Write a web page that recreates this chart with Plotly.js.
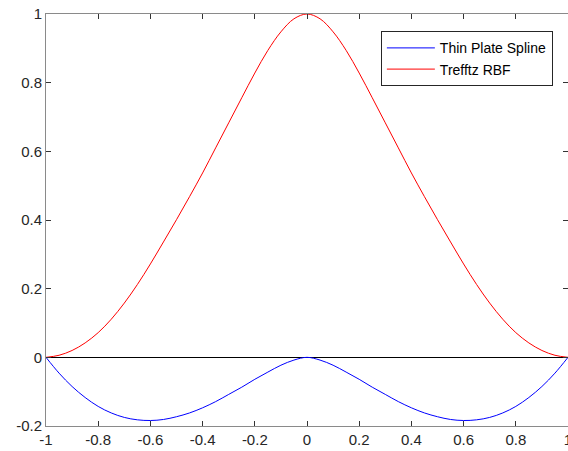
<!DOCTYPE html>
<html>
<head>
<meta charset="utf-8">
<script src="https://cdn.plot.ly/plotly-3.0.1.min.js"></script>
<style>html,body{margin:0;padding:0;background:#fff;}#chart{width:568px;height:451px;}</style>
</head>
<body>
<div id="chart"></div>
<script>
const xValues = [-1,-0.95,-0.9,-0.85,-0.8,-0.75,-0.7,-0.65,-0.6,-0.55,-0.5,-0.45,-0.4,-0.35,-0.3,-0.25,-0.2,-0.15,-0.1,-0.05,0,
                 0.05,0.1,0.15,0.2,0.25,0.3,0.35,0.4,0.45,0.5,0.55,0.6,0.65,0.7,0.75,0.8,0.85,0.9,0.95,1];
const thinPlateSpline = [0,-0.046,-0.085,-0.117,-0.143,-0.162,-0.175,-0.182,-0.184,-0.181,-0.173,-0.162,-0.147,-0.129,-0.108,-0.087,-0.064,-0.043,-0.023,-0.008,0,
                         -0.008,-0.023,-0.043,-0.064,-0.087,-0.108,-0.129,-0.147,-0.162,-0.173,-0.181,-0.184,-0.182,-0.175,-0.162,-0.143,-0.117,-0.085,-0.046,0];
const trefftzRBF = [0,0.006,0.02,0.042,0.072,0.111,0.158,0.212,0.272,0.336,0.401,0.468,0.537,0.61,0.683,0.756,0.828,0.894,0.948,0.986,1,
                    0.986,0.948,0.894,0.828,0.756,0.683,0.61,0.537,0.468,0.401,0.336,0.272,0.212,0.158,0.111,0.072,0.042,0.02,0.006,0];
const xTickVals = [-1,-0.8,-0.6,-0.4,-0.2,0,0.2,0.4,0.6,0.8,1];
const xTickText = ['-1','-0.8','-0.6','-0.4','-0.2','0','0.2','0.4','0.6','0.8','1'];
const yTickVals = [-0.2,0,0.2,0.4,0.6,0.8,1];
const yTickText = ['-0.2','0','0.2','0.4','0.6','0.8','1'];

const traces = [
  {x: xValues, y: thinPlateSpline, type: 'scatter', mode: 'lines', name: 'Thin Plate Spline',
   line: {color: 'rgb(0,0,255)', width: 1, shape: 'spline', smoothing: 1}},
  {x: xValues, y: trefftzRBF, type: 'scatter', mode: 'lines', name: 'Trefftz RBF',
   line: {color: 'rgb(255,0,0)', width: 1, shape: 'spline', smoothing: 1}}
];
const axisCommon = {
  showgrid: false, showline: true, linecolor: '#8a8a8a', linewidth: 1, mirror: 'ticks',
  ticks: 'inside', ticklen: 5, tickwidth: 1, tickcolor: '#333333',
  ticklabeloverflow: 'allow',
  tickfont: {family: 'Liberation Sans, Arial, sans-serif', size: 15, color: '#262626'}
};
const layout = {
  width: 568, height: 451,
  margin: {l: 46, r: 0, t: 14, b: 25},
  paper_bgcolor: '#ffffff', plot_bgcolor: '#ffffff',
  showlegend: true,
  xaxis: Object.assign({}, axisCommon, {range: [-1, 1], tickvals: xTickVals, ticktext: xTickText, zeroline: false}),
  yaxis: Object.assign({}, axisCommon, {range: [-0.2, 1], tickvals: yTickVals, ticktext: yTickText,
    zeroline: true, zerolinecolor: '#000000', zerolinewidth: 1}),
  legend: {x: 0.971, y: 0.958, xanchor: 'right', yanchor: 'top', bgcolor: '#ffffff',
    bordercolor: '#262626', borderwidth: 1, tracegroupgap: 0, itemwidth: 48,
    font: {family: 'Liberation Sans, Arial, sans-serif', size: 14, color: '#000000'}}
};
Plotly.newPlot('chart', traces, layout, {displayModeBar: false, staticPlot: true});
</script>
</body>
</html>
